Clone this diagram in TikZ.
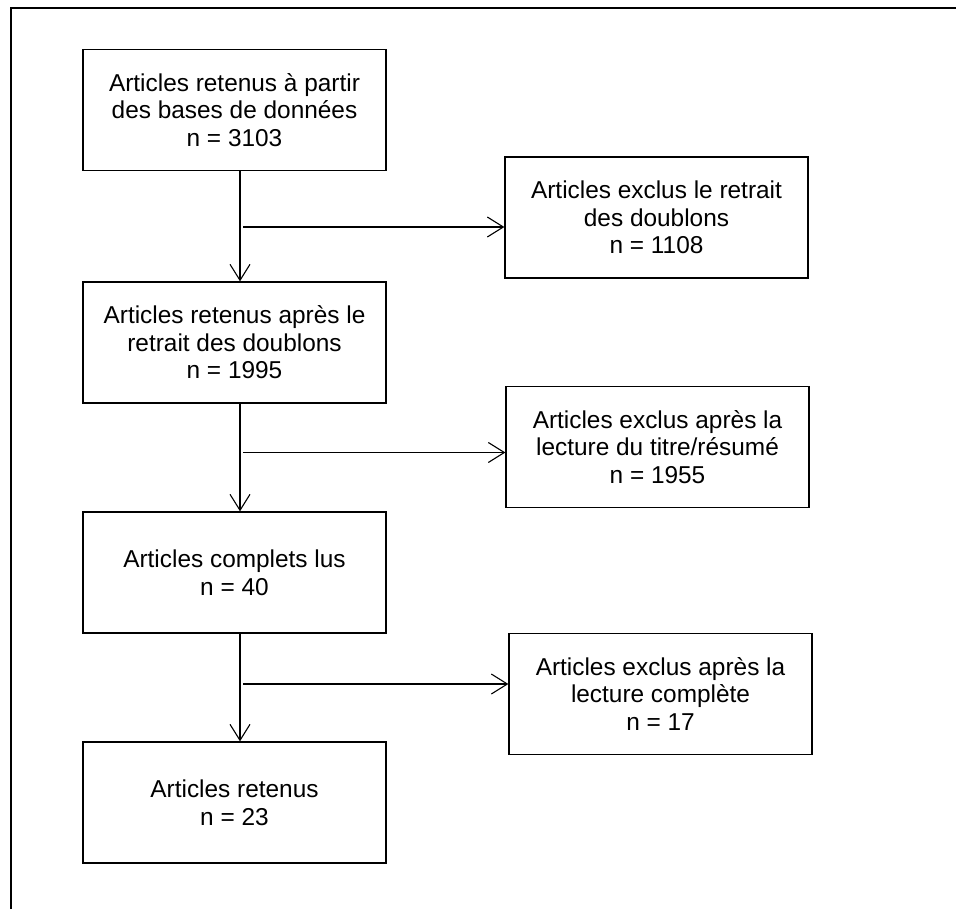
\documentclass[tikz,border=0pt]{standalone}
\usepackage{fontspec}
\setmainfont{Liberation Sans}
\usetikzlibrary{arrows.meta}

\begin{document}
\begin{tikzpicture}[x=0.5pt, y=-0.5pt,
		boite/.style={draw, line width=0.65pt, rectangle, align=center, minimum width=151.5pt, minimum height=60.5pt, inner sep=2pt, font=\fontsize{12.2}{13.8}\selectfont},
		fleche/.style={line width=0.55pt, -{Straight Barb[length=8pt, width=10pt]}}
	]
			\useasboundingbox (0,0) rectangle (956,909);
			\draw[line width=1pt] (11,909) -- (11,8) -- (956,8);
			
			% colonne principale
			\node[boite] (b1) at (234.5,110) {Articles retenus à partir\\des bases de données\\n = 3103};
			\node[boite] (b2) at (234.5,342.5) {Articles retenus après le\\retrait des doublons\\n = 1995};
			\node[boite] (b3) at (234.5,572.5) {Articles complets lus\\n = 40};
			\node[boite] (b4) at (234.5,802.5) {Articles retenus\\n = 23};
			
			% articles exclus
			\node[boite] (e1) at (656.5,217.5) {Articles exclus le retrait\\des doublons\\n = 1108};
			\node[boite] (e2) at (657.5,447) {Articles exclus après la\\lecture du titre/résumé\\n = 1955};
			\node[boite] (e3) at (660.5,694) {Articles exclus après la\\lecture complète\\n = 17};
			
			\draw[fleche] ([xshift=2.75pt]b1.south) -- ([xshift=2.75pt]b2.north);
			\draw[fleche] ([xshift=2.75pt]b2.south) -- ([xshift=2.75pt]b3.north);
			\draw[fleche] ([xshift=2.75pt]b3.south) -- ([xshift=2.75pt]b4.north);
			
			\coordinate (h1) at (243,227);
			\coordinate (h2) at (243,452.5);
			\coordinate (h3) at (243,684);
			\draw[fleche] (h1) -- (h1 -| e1.west);
			\draw[fleche] (h2) -- (h2 -| e2.west);
			\draw[fleche] (h3) -- (h3 -| e3.west);
		\end{tikzpicture}
\end{document}
